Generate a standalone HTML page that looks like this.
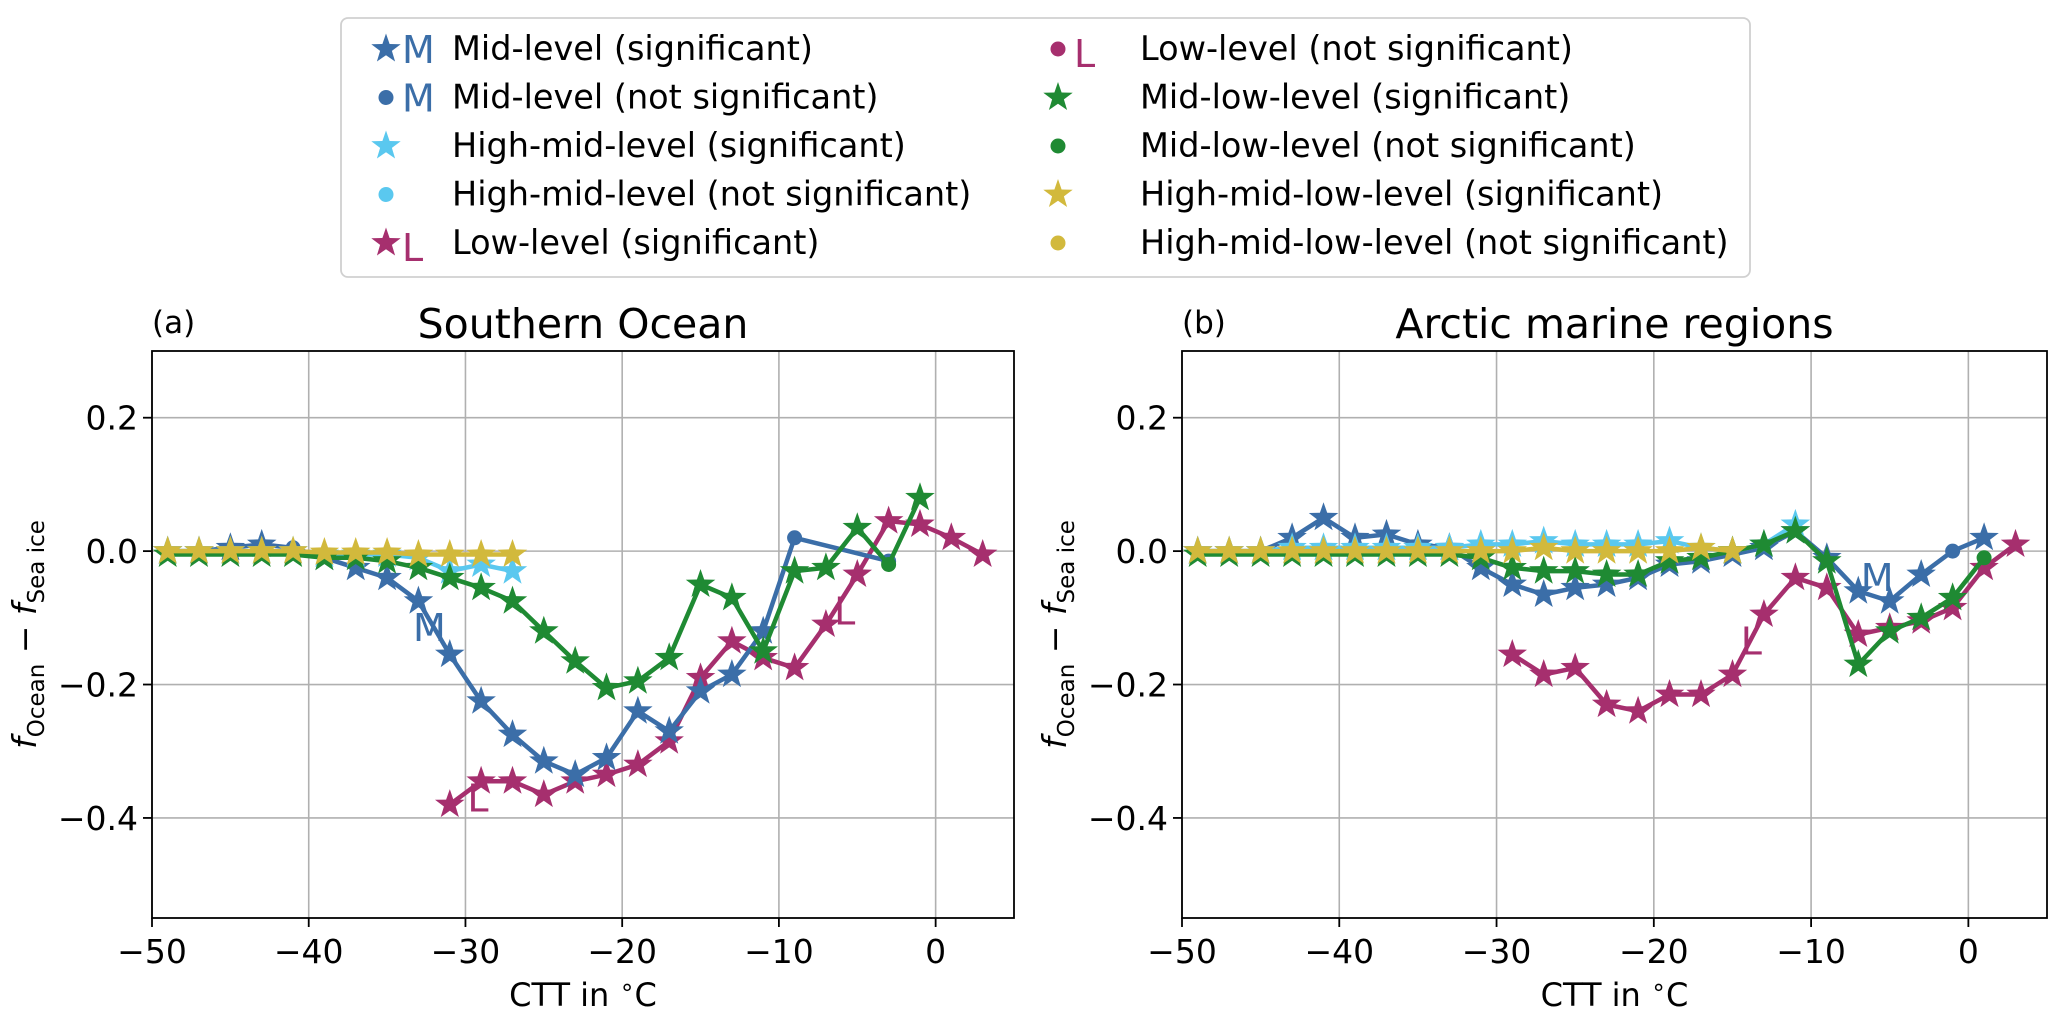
<!DOCTYPE html>
<html><head><meta charset="utf-8"><style>
html,body{margin:0;padding:0;background:#fff;}
svg{display:block;font-family:"DejaVu Sans","Liberation Sans",sans-serif;}
</style></head><body>
<svg id="chart" width="2067" height="1012" viewBox="0 0 2067 1012" xmlns="http://www.w3.org/2000/svg"></svg>
<script>
const xTicks=[-50,-40,-30,-20,-10,0];
const yTicks=[0.2,0.0,-0.2,-0.4];
const yTickLabels=["0.2","0.0","\u22120.2","\u22120.4"];
const xTickLabels=["\u221250","\u221240","\u221230","\u221220","\u221210","0"];
// Panel a: Southern Ocean
const aBlueX=[-49,-47,-45,-43,-41,-39,-37,-35,-33,-31,-29,-27,-25,-23,-21,-19,-17,-15,-13,-11,-9,-3];
const aBlueY=[0.0,0.0,0.005,0.01,0.005,-0.01,-0.025,-0.04,-0.075,-0.155,-0.225,-0.275,-0.315,-0.335,-0.31,-0.24,-0.27,-0.21,-0.185,-0.12,0.02,-0.015];
const aBlueS=[1,1,1,1,0,1,1,1,1,1,1,1,1,1,1,1,1,1,1,1,0,0];
const aCyanX=[-49,-47,-45,-43,-41,-39,-37,-35,-33,-31,-29,-27];
const aCyanY=[0.0,0.0,0.0,0.0,0.0,-0.005,-0.005,-0.005,-0.01,-0.03,-0.02,-0.03];
const aCyanS=[1,1,1,1,1,1,1,1,1,1,1,1];
const aMagX=[-31,-29,-27,-25,-23,-21,-19,-17,-15,-13,-11,-9,-7,-5,-3,-1,1,3];
const aMagY=[-0.38,-0.345,-0.345,-0.365,-0.345,-0.335,-0.32,-0.285,-0.19,-0.135,-0.16,-0.175,-0.11,-0.035,0.045,0.04,0.02,-0.005];
const aMagS=[1,1,1,1,1,1,1,1,1,1,1,1,1,1,1,1,1,1];
const aGrnX=[-49,-47,-45,-43,-41,-39,-37,-35,-33,-31,-29,-27,-25,-23,-21,-19,-17,-15,-13,-11,-9,-7,-5,-3,-1];
const aGrnY=[-0.005,-0.005,-0.005,-0.005,-0.005,-0.01,-0.01,-0.015,-0.025,-0.04,-0.055,-0.075,-0.12,-0.165,-0.205,-0.195,-0.16,-0.05,-0.07,-0.15,-0.03,-0.025,0.035,-0.02,0.08];
const aGrnS=[1,1,1,1,1,1,1,1,1,1,1,1,1,1,1,1,1,1,1,1,1,1,1,0,1];
const aGoldX=[-49,-47,-45,-43,-41,-39,-37,-35,-33,-31,-29,-27];
const aGoldY=[0.0,0.0,0.0,0.0,0.0,-0.002,-0.002,-0.002,-0.005,-0.005,-0.005,-0.005];
const aGoldS=[1,1,1,1,1,1,1,1,1,1,1,1];
// Panel b: Arctic marine regions
const bBlueX=[-49,-47,-45,-43,-41,-39,-37,-35,-33,-31,-29,-27,-25,-23,-21,-19,-17,-15,-13,-11,-9,-7,-5,-3,-1,1];
const bBlueY=[0.0,0.0,0.0,0.02,0.05,0.02,0.025,0.01,0.005,-0.025,-0.05,-0.065,-0.055,-0.05,-0.04,-0.02,-0.015,-0.005,0.005,0.03,-0.01,-0.06,-0.075,-0.035,0.0,0.02];
const bBlueS=[1,1,1,1,1,1,1,1,1,1,1,1,1,1,1,1,1,1,1,1,1,1,1,1,0,1];
const bCyanX=[-49,-47,-45,-43,-41,-39,-37,-35,-33,-31,-29,-27,-25,-23,-21,-19,-17,-15,-13,-11];
const bCyanY=[0.0,0.0,0.0,0.005,0.005,0.005,0.005,0.005,0.005,0.01,0.01,0.015,0.01,0.01,0.01,0.015,0.005,0.0,0.01,0.04];
const bCyanS=[1,1,1,1,1,1,1,1,1,1,1,1,1,1,1,1,1,1,1,1];
const bMagX=[-29,-27,-25,-23,-21,-19,-17,-15,-13,-11,-9,-7,-5,-3,-1,1,3];
const bMagY=[-0.155,-0.185,-0.175,-0.23,-0.24,-0.215,-0.215,-0.185,-0.095,-0.04,-0.055,-0.125,-0.115,-0.105,-0.085,-0.025,0.01];
const bMagS=[1,1,1,1,1,1,1,1,1,1,1,1,1,1,1,1,1];
const bGrnX=[-49,-47,-45,-43,-41,-39,-37,-35,-33,-31,-29,-27,-25,-23,-21,-19,-17,-15,-13,-11,-9,-7,-5,-3,-1,1];
const bGrnY=[-0.005,-0.005,-0.005,-0.005,-0.005,-0.005,-0.005,-0.005,-0.005,-0.01,-0.025,-0.03,-0.03,-0.035,-0.035,-0.015,-0.01,0.0,0.01,0.03,-0.015,-0.17,-0.12,-0.1,-0.07,-0.01];
const bGrnS=[1,1,1,1,1,1,1,1,1,1,1,1,1,1,1,1,1,1,1,1,1,1,1,1,1,0];
const bGoldX=[-49,-47,-45,-43,-41,-39,-37,-35,-33,-31,-29,-27,-25,-23,-21,-19,-17,-15];
const bGoldY=[0.0,0.0,0.0,0.0,0.0,0.0,0.0,0.0,0.0,0.0,0.0,0.005,0.0,0.0,0.0,0.0,0.005,0.0];
const bGoldS=[1,1,1,1,1,1,1,1,1,1,1,1,1,1,1,1,1,1];

const C={blue:"#3b6ea8",cyan:"#5ac8ef",mag:"#a62f6e",grn:"#1f8a33",gold:"#d2b93c"};
const NS="http://www.w3.org/2000/svg";
const svg=document.getElementById("chart");
function mk(tag,attrs,parent){const e=document.createElementNS(NS,tag);for(const k in attrs)e.setAttribute(k,attrs[k]);(parent||svg).appendChild(e);return e;}
function starPath(cx,cy,r){let d="";for(let i=0;i<10;i++){const rr=i%2?r*0.4:r;const a=-Math.PI/2+i*Math.PI/5;d+=(i?"L":"M")+(cx+rr*Math.cos(a)).toFixed(1)+","+(cy+rr*Math.sin(a)).toFixed(1);}return d+"Z";}

const Y0=351,Y1=918,YMIN=-0.55,YMAX=0.3,XMIN=-50,XMAX=5;
function panel(id,L,R,title,lab,series,letters){
  const g=mk("g",{});
  
  
  const sx=v=>L+(v-XMIN)/(XMAX-XMIN)*(R-L);
  const sy=v=>Y1-(v-YMIN)/(YMAX-YMIN)*(Y1-Y0);
  xTicks.forEach((t,i)=>{
    const gl=mk("line",{x1:sx(t),x2:sx(t),y1:Y0,y2:Y1,stroke:"#b0b0b0","stroke-width":1.6},g);
    
    
    mk("line",{x1:sx(t),x2:sx(t),y1:Y1,y2:Y1+9,stroke:"#000","stroke-width":1.8},g);
    const tx=mk("text",{x:sx(t),y:Y1+45,"text-anchor":"middle","font-size":33},g);
    tx.textContent=xTickLabels[i];
    
    
  });
  yTicks.forEach((t,i)=>{
    const gl=mk("line",{x1:L,x2:R,y1:sy(t),y2:sy(t),stroke:"#b0b0b0","stroke-width":1.6},g);
    
    
    mk("line",{x1:L-9,x2:L,y1:sy(t),y2:sy(t),stroke:"#000","stroke-width":1.8},g);
    const tx=mk("text",{x:L-14,y:sy(t)+12,"text-anchor":"end","font-size":33},g);
    tx.textContent=yTickLabels[i];
    
    
  });
  series.forEach(s=>{
    const sg=mk("g",{},g);
    
    
    const pts=s.x.map((v,i)=>sx(v).toFixed(1)+","+sy(s.y[i]).toFixed(1)).join(" ");
    mk("polyline",{points:pts,fill:"none",stroke:s.c,"stroke-width":4.5,"stroke-linejoin":"round"},sg);
    s.x.forEach((v,i)=>{
      let m;
      if(s.s[i]) m=mk("path",{d:starPath(sx(v),sy(s.y[i]),15.5),fill:s.c},sg);
      else m=mk("circle",{cx:sx(v),cy:sy(s.y[i]),r:7.5,fill:s.c},sg);
      
      
    });
  });
  letters.forEach(l=>{
    const t=mk("text",{x:sx(l[0]),y:sy(l[1]),"font-size":38,fill:l[3],"text-anchor":"middle"},g);
    t.textContent=l[2];
    
    
  });
  const fr=mk("rect",{x:L,y:Y0,width:R-L,height:Y1-Y0,fill:"none",stroke:"#000","stroke-width":1.8},g);
  
  
  const tt=mk("text",{x:(L+R)/2,y:Y0-13,"text-anchor":"middle","font-size":41},g);
  tt.textContent=title;
  
  
  const pl=mk("text",{x:L,y:Y0-18,"font-size":31},g);
  pl.textContent=lab;
  
  
  const xl=mk("text",{x:(L+R)/2,y:Y1+88,"text-anchor":"middle","font-size":32},g);
  xl.innerHTML='CTT in  <tspan font-size="24" dy="-11">\u2218</tspan><tspan dy="11">C</tspan>';
  
  
  const yl=mk("text",{transform:`translate(${L-116},${(Y0+Y1)/2}) rotate(-90)`,"text-anchor":"middle","font-size":33},g);
  yl.innerHTML='<tspan font-style="italic">f</tspan><tspan font-size="23" dy="8">Ocean</tspan><tspan dy="-8"> \u2212 </tspan><tspan font-style="italic">f</tspan><tspan font-size="23" dy="8">Sea ice</tspan>';
  
  
}
panel("panel-southern-ocean",152,1014,"Southern Ocean","(a)",[
 {name:"low-level-series",x:aMagX,y:aMagY,s:aMagS,c:C.mag},
 {name:"mid-level-series",x:aBlueX,y:aBlueY,s:aBlueS,c:C.blue},
 {name:"high-mid-level-series",x:aCyanX,y:aCyanY,s:aCyanS,c:C.cyan},
 {name:"mid-low-level-series",x:aGrnX,y:aGrnY,s:aGrnS,c:C.grn},
 {name:"high-mid-low-level-series",x:aGoldX,y:aGoldY,s:aGoldS,c:C.gold}
],[[-32.3,-0.135,"M",C.blue],[-29.2,-0.39,"L",C.mag],[-5.8,-0.11,"L",C.mag]]);
panel("panel-arctic",1182,2047,"Arctic marine regions","(b)",[
 {name:"low-level-series",x:bMagX,y:bMagY,s:bMagS,c:C.mag},
 {name:"mid-level-series",x:bBlueX,y:bBlueY,s:bBlueS,c:C.blue},
 {name:"high-mid-level-series",x:bCyanX,y:bCyanY,s:bCyanS,c:C.cyan},
 {name:"mid-low-level-series",x:bGrnX,y:bGrnY,s:bGrnS,c:C.grn},
 {name:"high-mid-low-level-series",x:bGoldX,y:bGoldY,s:bGoldS,c:C.gold}
],[[-5.8,-0.06,"M",C.blue],[-13.8,-0.155,"L",C.mag]]);

// Legend
const legLabels=["Mid-level (significant)","Mid-level (not significant)","High-mid-level (significant)","High-mid-level (not significant)","Low-level (significant)","Low-level (not significant)","Mid-low-level (significant)","Mid-low-level (not significant)","High-mid-low-level (significant)","High-mid-low-level (not significant)"];
const legColors=[C.blue,C.blue,C.cyan,C.cyan,C.mag,C.mag,C.grn,C.grn,C.gold,C.gold];
const legLetters=["M","M","","","L","L","","","",""];
const lg=mk("g",{});


mk("rect",{x:341,y:18,width:1409,height:259,rx:7,fill:"#fff",stroke:"#d0d0d0","stroke-width":1.8},lg);
legLabels.forEach((t,i)=>{
  const col=i<5?0:1,row=i%5;
  const y=49+row*48.5;
  const mx=col?1058:386,tx=col?1140:452;
  const e=mk("g",{},lg);
  
  
  if(i%2===0) mk("path",{d:starPath(mx,y,15.5),fill:legColors[i]},e);
  else mk("circle",{cx:mx,cy:y,r:7.5,fill:legColors[i]},e);
  if(legLetters[i]){const l=mk("text",{x:mx+16,y:y+(legLetters[i]==="L"?18:14),"font-size":38,fill:legColors[i]},e);l.textContent=legLetters[i];}
  const tt=mk("text",{x:tx,y:y+11,"font-size":33.5},e);
  tt.textContent=t;
});
</script>
</body></html>
